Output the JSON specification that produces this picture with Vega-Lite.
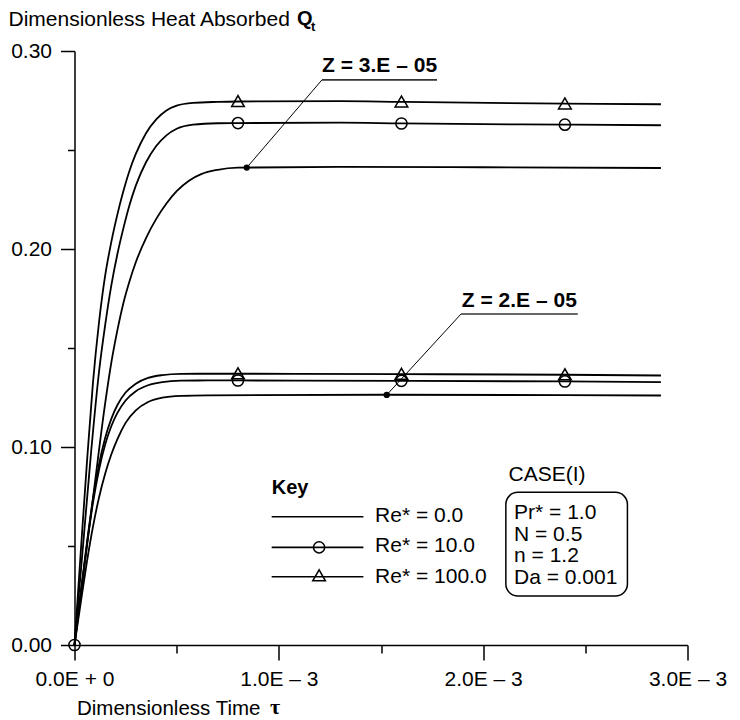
{
  "$schema": "https://vega.github.io/schema/vega-lite/v6.json",
  "width": 613,
  "height": 594,
  "autosize": {"type": "none"},
  "padding": {"left": 74.5, "top": 51, "right": 52.5, "bottom": 75},
  "background": "white",
  "config": {
    "font": "Liberation Sans",
    "view": {"stroke": null},
    "axis": {
      "grid": false,
      "domainColor": "black",
      "domainWidth": 1.5,
      "tickColor": "black",
      "tickWidth": 1.5,
      "labelColor": "black",
      "labelFontSize": 21,
      "labelFont": "Liberation Sans",
      "titleFont": "Liberation Sans",
      "titleFontSize": 21,
      "titleFontWeight": "normal",
      "titleColor": "black",
      "labelFlush": false,
      "labelOverlap": false
    }
  },
  "datasets": {
    "curves": [
      {"series": "Z3_Re100", "x": 0, "y": 0},
      {"series": "Z3_Re100", "x": 0.00003, "y": 0.046},
      {"series": "Z3_Re100", "x": 0.00006, "y": 0.091},
      {"series": "Z3_Re100", "x": 0.00009, "y": 0.132},
      {"series": "Z3_Re100", "x": 0.00012, "y": 0.163},
      {"series": "Z3_Re100", "x": 0.00015, "y": 0.1865},
      {"series": "Z3_Re100", "x": 0.00018, "y": 0.2035},
      {"series": "Z3_Re100", "x": 0.00021, "y": 0.2175},
      {"series": "Z3_Re100", "x": 0.00024, "y": 0.2295},
      {"series": "Z3_Re100", "x": 0.00027, "y": 0.2398},
      {"series": "Z3_Re100", "x": 0.0003, "y": 0.248},
      {"series": "Z3_Re100", "x": 0.00035, "y": 0.2585},
      {"series": "Z3_Re100", "x": 0.0004, "y": 0.2655},
      {"series": "Z3_Re100", "x": 0.00045, "y": 0.27},
      {"series": "Z3_Re100", "x": 0.0005, "y": 0.2724},
      {"series": "Z3_Re100", "x": 0.00058, "y": 0.2738},
      {"series": "Z3_Re100", "x": 0.0007, "y": 0.2743},
      {"series": "Z3_Re100", "x": 0.0008, "y": 0.2745},
      {"series": "Z3_Re100", "x": 0.0013, "y": 0.2747},
      {"series": "Z3_Re100", "x": 0.0016, "y": 0.2743},
      {"series": "Z3_Re100", "x": 0.0024, "y": 0.2734},
      {"series": "Z3_Re100", "x": 0.00287, "y": 0.2731},

      {"series": "Z3_Re10", "x": 0, "y": 0},
      {"series": "Z3_Re10", "x": 0.00004, "y": 0.048},
      {"series": "Z3_Re10", "x": 0.00008, "y": 0.096},
      {"series": "Z3_Re10", "x": 0.00012, "y": 0.138},
      {"series": "Z3_Re10", "x": 0.00015, "y": 0.1615},
      {"series": "Z3_Re10", "x": 0.00018, "y": 0.1815},
      {"series": "Z3_Re10", "x": 0.00021, "y": 0.1975},
      {"series": "Z3_Re10", "x": 0.00024, "y": 0.2108},
      {"series": "Z3_Re10", "x": 0.00027, "y": 0.2225},
      {"series": "Z3_Re10", "x": 0.0003, "y": 0.232},
      {"series": "Z3_Re10", "x": 0.00035, "y": 0.2438},
      {"series": "Z3_Re10", "x": 0.0004, "y": 0.252},
      {"series": "Z3_Re10", "x": 0.00045, "y": 0.2574},
      {"series": "Z3_Re10", "x": 0.0005, "y": 0.2607},
      {"series": "Z3_Re10", "x": 0.00058, "y": 0.2628},
      {"series": "Z3_Re10", "x": 0.0007, "y": 0.2635},
      {"series": "Z3_Re10", "x": 0.0008, "y": 0.2636},
      {"series": "Z3_Re10", "x": 0.0013, "y": 0.2638},
      {"series": "Z3_Re10", "x": 0.0016, "y": 0.2634},
      {"series": "Z3_Re10", "x": 0.0024, "y": 0.2628},
      {"series": "Z3_Re10", "x": 0.00287, "y": 0.2625},

      {"series": "Z3_Re0", "x": 0, "y": 0},
      {"series": "Z3_Re0", "x": 0.00005, "y": 0.041},
      {"series": "Z3_Re0", "x": 0.0001, "y": 0.082},
      {"series": "Z3_Re0", "x": 0.00015, "y": 0.122},
      {"series": "Z3_Re0", "x": 0.00018, "y": 0.1425},
      {"series": "Z3_Re0", "x": 0.00021, "y": 0.159},
      {"series": "Z3_Re0", "x": 0.00024, "y": 0.173},
      {"series": "Z3_Re0", "x": 0.00027, "y": 0.184},
      {"series": "Z3_Re0", "x": 0.0003, "y": 0.1933},
      {"series": "Z3_Re0", "x": 0.00035, "y": 0.2055},
      {"series": "Z3_Re0", "x": 0.0004, "y": 0.2152},
      {"series": "Z3_Re0", "x": 0.00045, "y": 0.223},
      {"series": "Z3_Re0", "x": 0.0005, "y": 0.2292},
      {"series": "Z3_Re0", "x": 0.00056, "y": 0.2345},
      {"series": "Z3_Re0", "x": 0.00062, "y": 0.2378},
      {"series": "Z3_Re0", "x": 0.0007, "y": 0.24},
      {"series": "Z3_Re0", "x": 0.0008, "y": 0.2411},
      {"series": "Z3_Re0", "x": 0.0013, "y": 0.2415},
      {"series": "Z3_Re0", "x": 0.002, "y": 0.2413},
      {"series": "Z3_Re0", "x": 0.00287, "y": 0.2409},

      {"series": "Z2_Re100", "x": 0, "y": 0},
      {"series": "Z2_Re100", "x": 0.00003, "y": 0.026},
      {"series": "Z2_Re100", "x": 0.00006, "y": 0.051},
      {"series": "Z2_Re100", "x": 0.00009, "y": 0.0735},
      {"series": "Z2_Re100", "x": 0.00012, "y": 0.0912},
      {"series": "Z2_Re100", "x": 0.00015, "y": 0.1045},
      {"series": "Z2_Re100", "x": 0.00018, "y": 0.1142},
      {"series": "Z2_Re100", "x": 0.00021, "y": 0.1212},
      {"series": "Z2_Re100", "x": 0.00025, "y": 0.1275},
      {"series": "Z2_Re100", "x": 0.0003, "y": 0.132},
      {"series": "Z2_Re100", "x": 0.00036, "y": 0.1349},
      {"series": "Z2_Re100", "x": 0.00043, "y": 0.1363},
      {"series": "Z2_Re100", "x": 0.00052, "y": 0.1369},
      {"series": "Z2_Re100", "x": 0.00065, "y": 0.137},
      {"series": "Z2_Re100", "x": 0.0008, "y": 0.137},
      {"series": "Z2_Re100", "x": 0.0016, "y": 0.1368},
      {"series": "Z2_Re100", "x": 0.0024, "y": 0.1365},
      {"series": "Z2_Re100", "x": 0.00287, "y": 0.1361},

      {"series": "Z2_Re10", "x": 0, "y": 0},
      {"series": "Z2_Re10", "x": 0.00003, "y": 0.0255},
      {"series": "Z2_Re10", "x": 0.00006, "y": 0.05},
      {"series": "Z2_Re10", "x": 0.00009, "y": 0.0715},
      {"series": "Z2_Re10", "x": 0.00012, "y": 0.0885},
      {"series": "Z2_Re10", "x": 0.00015, "y": 0.1012},
      {"series": "Z2_Re10", "x": 0.00018, "y": 0.1105},
      {"series": "Z2_Re10", "x": 0.00021, "y": 0.1172},
      {"series": "Z2_Re10", "x": 0.00025, "y": 0.1235},
      {"series": "Z2_Re10", "x": 0.0003, "y": 0.1282},
      {"series": "Z2_Re10", "x": 0.00036, "y": 0.1312},
      {"series": "Z2_Re10", "x": 0.00043, "y": 0.1328},
      {"series": "Z2_Re10", "x": 0.00052, "y": 0.1335},
      {"series": "Z2_Re10", "x": 0.00065, "y": 0.1336},
      {"series": "Z2_Re10", "x": 0.0008, "y": 0.1336},
      {"series": "Z2_Re10", "x": 0.0016, "y": 0.1334},
      {"series": "Z2_Re10", "x": 0.0024, "y": 0.1331},
      {"series": "Z2_Re10", "x": 0.00287, "y": 0.1328},

      {"series": "Z2_Re0", "x": 0, "y": 0},
      {"series": "Z2_Re0", "x": 0.00003, "y": 0.021},
      {"series": "Z2_Re0", "x": 0.00006, "y": 0.0415},
      {"series": "Z2_Re0", "x": 0.00009, "y": 0.0595},
      {"series": "Z2_Re0", "x": 0.00012, "y": 0.0745},
      {"series": "Z2_Re0", "x": 0.00015, "y": 0.0865},
      {"series": "Z2_Re0", "x": 0.00018, "y": 0.0962},
      {"series": "Z2_Re0", "x": 0.00021, "y": 0.104},
      {"series": "Z2_Re0", "x": 0.00025, "y": 0.1122},
      {"series": "Z2_Re0", "x": 0.0003, "y": 0.1185},
      {"series": "Z2_Re0", "x": 0.00036, "y": 0.1227},
      {"series": "Z2_Re0", "x": 0.00043, "y": 0.1249},
      {"series": "Z2_Re0", "x": 0.00052, "y": 0.1258},
      {"series": "Z2_Re0", "x": 0.00065, "y": 0.1261},
      {"series": "Z2_Re0", "x": 0.0015, "y": 0.1264},
      {"series": "Z2_Re0", "x": 0.0024, "y": 0.1262},
      {"series": "Z2_Re0", "x": 0.00287, "y": 0.126}
    ],
    "circles": [
      {"x": 0, "y": 0},
      {"x": 0.0008, "y": 0.2636},
      {"x": 0.0016, "y": 0.2634},
      {"x": 0.0024, "y": 0.2628},
      {"x": 0.0008, "y": 0.1336},
      {"x": 0.0016, "y": 0.1334},
      {"x": 0.0024, "y": 0.1331},
      {"x": 0.001197, "y": 0.0493}
    ],
    "triangles": [
      {"x": 0.0008, "y": 0.2747},
      {"x": 0.0016, "y": 0.2745},
      {"x": 0.0024, "y": 0.2735},
      {"x": 0.0008, "y": 0.1372},
      {"x": 0.0016, "y": 0.137},
      {"x": 0.0024, "y": 0.1367},
      {"x": 0.001197, "y": 0.0352}
    ],
    "dots": [
      {"x": 0.000843, "y": 0.2411},
      {"x": 0.001528, "y": 0.1263}
    ],
    "leaders": [
      {"x": 0.000843, "y": 0.2411, "x2": 0.001211, "y2": 0.2854},
      {"x": 0.001528, "y": 0.1263, "x2": 0.001892, "y2": 0.1672}
    ],
    "underlines": [
      {"x": 0.001211, "y": 0.2854, "x2": 0.001774, "y2": 0.2854},
      {"x": 0.001892, "y": 0.1672, "x2": 0.002463, "y2": 0.1672}
    ],
    "zlabels": [
      {"x": 0.001493, "y": 0.2896, "label": "Z = 3.E – 05"},
      {"x": 0.002177, "y": 0.1709, "label": "Z = 2.E – 05"}
    ],
    "keylines": [
      {"x": 0.000965, "y": 0.0648, "x2": 0.001414, "y2": 0.0648},
      {"x": 0.000965, "y": 0.0493, "x2": 0.001414, "y2": 0.0493},
      {"x": 0.000965, "y": 0.0345, "x2": 0.001414, "y2": 0.0345}
    ],
    "texts": [
      {"x": 0.001471, "y": 0.0623, "label": "Re* = 0.0"},
      {"x": 0.001471, "y": 0.0471, "label": "Re* = 10.0"},
      {"x": 0.001471, "y": 0.0312, "label": "Re* = 100.0"},
      {"x": 0.002124, "y": 0.0828, "label": "CASE(I)"},
      {"x": 0.002151, "y": 0.0634, "label": "Pr* = 1.0"},
      {"x": 0.002151, "y": 0.0525, "label": "N = 0.5"},
      {"x": 0.002151, "y": 0.0417, "label": "n = 1.2"},
      {"x": 0.002151, "y": 0.0308, "label": "Da = 0.001"}
    ],
    "boldtexts": [
      {"x": 0.000965, "y": 0.0761, "label": "Key"},
      {"x": 0.001089, "y": 0.3131, "label": "Q"}
    ],
    "subscripts": [
      {"x": 0.001158, "y": 0.3101, "label": "t"}
    ],
    "greek": [
      {"x": 0.000957, "y": -0.03485, "label": "τ"}
    ],
    "box": [
      {"x": 0.002111, "y": 0.0771, "x2": 0.002706, "y2": 0.0247}
    ]
  },
  "encoding": {
    "x": {
      "field": "x",
      "type": "quantitative",
      "scale": {"domain": [0, 0.003], "nice": false, "zero": false},
      "axis": {
        "values": [0, 0.0005, 0.001, 0.0015, 0.002, 0.0025, 0.003],
        "labelExpr": "abs(datum.value*1000 - round(datum.value*1000)) < 1e-6 ? (datum.value == 0 ? '0.0E + 0' : format(datum.value*1000, '.1f') + 'E – 3') : ''",
        "tickSize": {"condition": {"test": "abs(datum.value*1000 - round(datum.value*1000)) < 1e-6", "value": 15}, "value": 8},
        "labelPadding": 8,
        "title": "Dimensionless Time",
        "titleFontSize": 20.5,
        "titleX": 2,
        "titleY": 69,
        "titleAlign": "left",
        "titleBaseline": "alphabetic",
        "titleAnchor": null
      }
    },
    "y": {
      "field": "y",
      "type": "quantitative",
      "scale": {"domain": [0, 0.3], "nice": false, "zero": false},
      "axis": {
        "values": [0, 0.05, 0.1, 0.15, 0.2, 0.25, 0.3],
        "labelExpr": "abs(datum.value*10 - round(datum.value*10)) < 1e-6 ? format(datum.value, '.2f') : ''",
        "tickSize": {"condition": {"test": "abs(datum.value*10 - round(datum.value*10)) < 1e-6", "value": 14}, "value": 7},
        "labelPadding": 9,
        "title": "Dimensionless Heat Absorbed",
        "titleAngle": 0,
        "titleX": -66.5,
        "titleY": -26,
        "titleAlign": "left",
        "titleBaseline": "alphabetic",
        "titleAnchor": null
      }
    }
  },
  "layer": [
    {
      "data": {"name": "curves"},
      "mark": {"type": "line", "color": "black", "strokeWidth": 1.8, "interpolate": "monotone"},
      "encoding": {"detail": {"field": "series", "type": "nominal"}}
    },
    {
      "data": {"name": "circles"},
      "mark": {"type": "point", "shape": "circle", "filled": false, "color": "black", "size": 125, "strokeWidth": 1.5, "opacity": 1}
    },
    {
      "data": {"name": "triangles"},
      "mark": {"type": "point", "shape": "triangle-up", "filled": false, "color": "black", "size": 160, "strokeWidth": 1.5, "opacity": 1}
    },
    {
      "data": {"name": "dots"},
      "mark": {"type": "point", "shape": "circle", "filled": true, "color": "black", "size": 40, "opacity": 1}
    },
    {
      "data": {"name": "leaders"},
      "mark": {"type": "rule", "color": "black", "strokeWidth": 1},
      "encoding": {"x2": {"field": "x2"}, "y2": {"field": "y2"}}
    },
    {
      "data": {"name": "underlines"},
      "mark": {"type": "rule", "color": "#333333", "strokeWidth": 1.6},
      "encoding": {"x2": {"field": "x2"}, "y2": {"field": "y2"}}
    },
    {
      "data": {"name": "zlabels"},
      "mark": {"type": "text", "font": "Liberation Sans", "fontSize": 21, "fontWeight": "bold", "align": "center", "baseline": "alphabetic", "color": "black"},
      "encoding": {"text": {"field": "label"}}
    },
    {
      "data": {"name": "keylines"},
      "mark": {"type": "rule", "color": "black", "strokeWidth": 1.6},
      "encoding": {"x2": {"field": "x2"}, "y2": {"field": "y2"}}
    },
    {
      "data": {"name": "texts"},
      "mark": {"type": "text", "font": "Liberation Sans", "fontSize": 21, "align": "left", "baseline": "alphabetic", "color": "black"},
      "encoding": {"text": {"field": "label"}}
    },
    {
      "data": {"name": "boldtexts"},
      "mark": {"type": "text", "font": "Liberation Sans", "fontSize": 20, "fontWeight": "bold", "align": "left", "baseline": "alphabetic", "color": "black"},
      "encoding": {"text": {"field": "label"}}
    },
    {
      "data": {"name": "subscripts"},
      "mark": {"type": "text", "font": "Liberation Sans", "fontSize": 13, "fontWeight": "bold", "align": "left", "baseline": "alphabetic", "color": "black"},
      "encoding": {"text": {"field": "label"}}
    },
    {
      "data": {"name": "greek"},
      "mark": {"type": "text", "font": "Liberation Serif", "fontSize": 22, "fontWeight": "bold", "align": "left", "baseline": "alphabetic", "color": "black"},
      "encoding": {"text": {"field": "label"}}
    },
    {
      "data": {"name": "box"},
      "mark": {"type": "rect", "fill": "transparent", "stroke": "black", "strokeWidth": 1.5, "cornerRadius": 12},
      "encoding": {"x2": {"field": "x2"}, "y2": {"field": "y2"}}
    }
  ]
}
